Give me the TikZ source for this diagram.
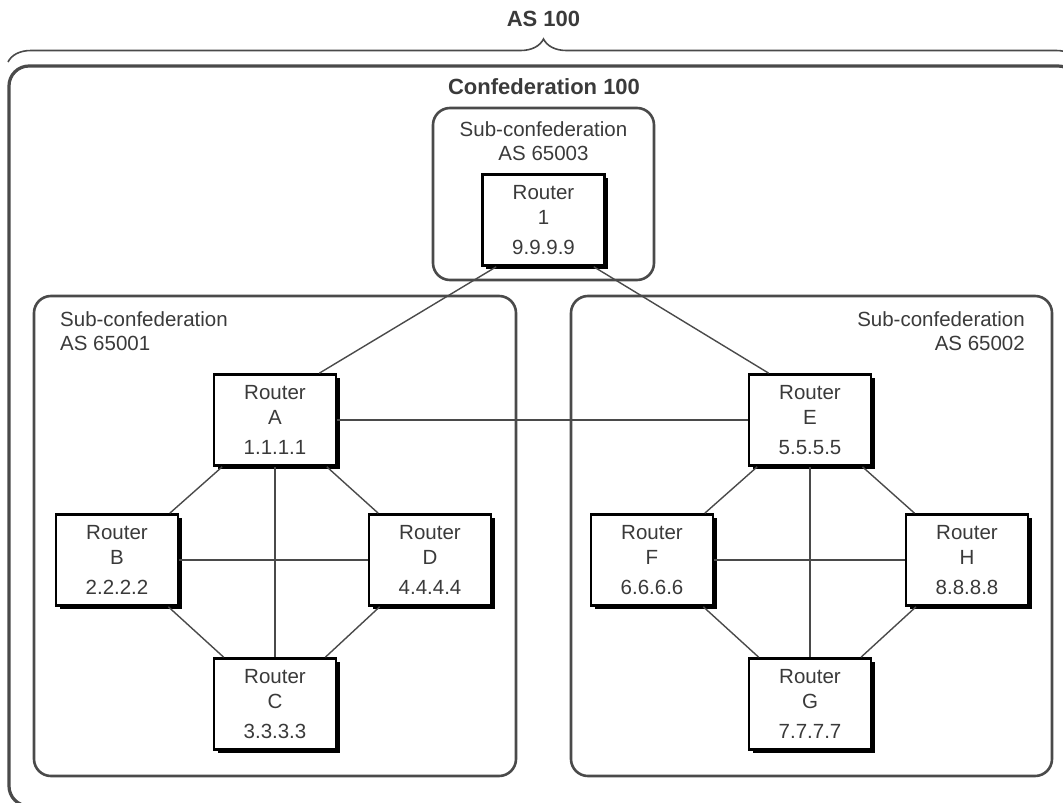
\documentclass[tikz,border=0pt]{standalone}
\usepackage{fontspec}
\setmainfont{Liberation Sans}
\usetikzlibrary{positioning,shadows,decorations.pathreplacing}
\definecolor{ink}{HTML}{3A3A3A}
\definecolor{frame}{HTML}{4A4A4A}

\begin{document}
\begin{tikzpicture}[x=1pt,y=-1pt,
  router/.style={draw=black,line width=2.6pt,fill=white,minimum width=122pt,minimum height=91pt,
    align=center,inner sep=0pt,text=ink,font=\fontsize{20.5}{25}\selectfont,
    drop shadow={shadow xshift=3.5pt,shadow yshift=-3.5pt,fill=black,opacity=1}},
  subconf/.style={draw=frame,line width=2.6pt,rounded corners=17pt},
  sclabel/.style={text=ink,font=\fontsize{20.5}{24}\selectfont,inner sep=0pt},
  title/.style={text=ink,font=\fontsize{22}{25}\selectfont\bfseries,inner sep=0pt},
  link/.style={draw=frame,line width=1.4pt}]
\useasboundingbox (0,0) rectangle (1063,803);
\clip (0,0) rectangle (1063,803);
% ---- AS 100 brace and confederation frame ----
\node[title] (as) at (543.5,19) {AS 100};
\draw[frame,line width=1.6pt,decorate,decoration={brace,amplitude=23pt}] (8,62) -- (1079,62);
\draw[frame,line width=3.2pt,rounded corners=20pt] (9,66) rectangle (1078,806);
\node[title] (conf) at (544,87) {Confederation 100};
% ---- sub-confederations ----
\draw[subconf] (433,108) rectangle (654,280);
\draw[subconf] (34,296) rectangle (516,776);
\draw[subconf] (571,296) rectangle (1052,776);
\node[sclabel,align=center,anchor=north] (sc3) at (543.5,121) {Sub-confederation\\AS 65003};
\node[sclabel,align=left,anchor=north west] (sc1) at (60,311) {Sub-confederation\\AS 65001};
\node[sclabel,align=right,anchor=north east] (sc2) at (1025,311) {Sub-confederation\\AS 65002};
% ---- routers ----
\foreach \n/\ip/\x/\y in {1/9.9.9.9/543.5/220, A/1.1.1.1/275/420, B/2.2.2.2/117/560,
    D/4.4.4.4/430/560, C/3.3.3.3/275/704, E/5.5.5.5/810/420, F/6.6.6.6/652/560,
    H/8.8.8.8/967/560, G/7.7.7.7/810/704}
  \node[router] (r\n) at (\x,\y) {Router\\\n\\[5pt]\ip};
% ---- links ----
\draw[link] ([xshift=15pt]r1.south west) -- ([xshift=-18pt]rA.north east);
\draw[link] ([xshift=-12pt]r1.south east) -- ([xshift=21pt]rE.north west);
\foreach \a/\b in {A/E,A/B,A/D,B/C,D/C,A/C,B/D,E/F,E/H,F/G,H/G,E/G,F/H}
  \draw[link] (r\a) -- (r\b);
\end{tikzpicture}
\end{document}
